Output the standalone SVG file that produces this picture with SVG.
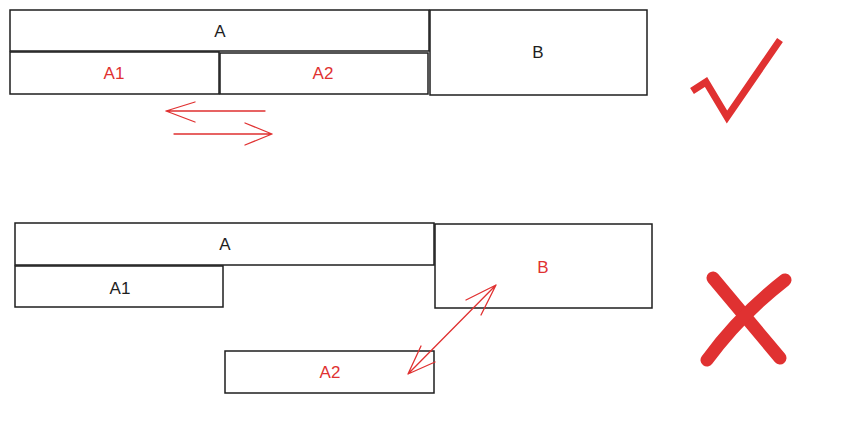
<svg xmlns="http://www.w3.org/2000/svg" width="845" height="438" viewBox="0 0 845 438">
<style>
.box{fill:#fff;stroke:#1e1e1e;stroke-width:1.5}
.t{font-family:"Liberation Sans",Arial,sans-serif;font-size:17px;text-anchor:middle;dominant-baseline:central}
.dark{fill:#1e1e1e}
.red{fill:#e03131}
.arr{fill:none;stroke:#e03131;stroke-width:1.3;stroke-linecap:round;stroke-linejoin:round}
</style>
<rect width="845" height="438" fill="#fff"/>
<g id="top-A"><rect class="box" x="10" y="10" width="419" height="41"/><text class="t dark" x="220" y="31">A</text></g>
<g id="top-A1"><rect class="box" x="10" y="52" width="209" height="42"/><text class="t red" x="114" y="73">A1</text></g>
<g id="top-A2"><rect class="box" x="220" y="53" width="208" height="41"/><text class="t red" x="323" y="73">A2</text></g>
<g id="top-B"><rect class="box" x="430" y="10" width="217" height="85"/><text class="t dark" x="538" y="52">B</text></g>
<g id="check"><polyline points="692,91 706,82 727,117 780,40" fill="none" stroke="#e03131" stroke-width="7"/></g>
<g id="bot-A"><rect class="box" x="15" y="223" width="419" height="42"/><text class="t dark" x="225" y="244">A</text></g>
<g id="bot-A1"><rect class="box" x="15" y="266" width="208" height="41"/><text class="t dark" x="120" y="288">A1</text></g>
<g id="bot-A2"><rect class="box" x="225" y="351" width="209" height="42"/><text class="t red" x="330" y="372">A2</text></g>
<g id="bot-B"><rect class="box" x="435" y="224" width="217" height="84"/><text class="t red" x="543" y="267">B</text></g>
<g id="cross" fill="none" stroke="#e03131" stroke-width="13" stroke-linecap="round">
<path d="M713,278 Q750,322 780,358"/>
<path d="M785,280 Q740,315 707,360"/>
</g>
<g id="connectors">
<path class="arr" d="M265,111 L166,111 M195,102 L166,111 L195,122"/>
<path class="arr" d="M174,134 L272,134 M245,123 L272,134 L245,145"/>
<path class="arr" d="M408,374 L496,285 M466,300 L496,285 L481,315 M421,346 L408,374 L435,362"/>
</g>
</svg>
